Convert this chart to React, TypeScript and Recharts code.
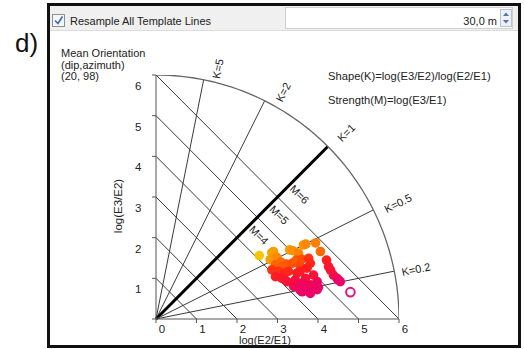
import React from 'react';
import { ScatterChart, Scatter, XAxis, YAxis, ReferenceLine, ReferenceDot } from 'recharts';

// ---------- data ----------
const axisTicks = [0, 1, 2, 3, 4, 5, 6];
const kValues = [5, 2, 1, 0.5, 0.2];
const kLabels = ['K=5', 'K=2', 'K=1', 'K=0.5', 'K=0.2'];
const mValues = [1, 2, 3, 4, 5, 6];
const mLabelValues = [4, 5, 6];
const templateRadius = 6;

// log(E2/E1)
const sampleX = [
  2.55, 2.86, 2.90, 2.82, 2.98, 3.30, 3.38, 3.52, 3.64, 3.70, 3.94, 4.06,
  2.95, 3.08, 3.11, 3.22, 3.36, 3.46, 3.56, 3.60, 3.77, 3.81, 4.21,
  2.86, 3.03, 3.18, 3.27, 3.48, 3.56, 3.73, 4.26, 4.31, 2.95, 3.11, 3.24, 3.44, 3.69, 3.89, 4.38, 4.47,
  3.40, 3.52, 3.61, 3.56, 3.65, 3.61, 3.77, 3.81, 3.81, 3.98, 3.98, 4.01, 4.55, 4.50,
];
// log(E3/E2)
const sampleY = [
  1.56, 1.63, 1.66, 1.46, 1.52, 1.70, 1.68, 1.62, 1.82, 1.84, 1.87, 1.66,
  1.33, 1.40, 1.29, 1.35, 1.37, 1.45, 1.30, 1.47, 1.49, 1.37, 1.45,
  1.21, 1.17, 1.12, 1.17, 1.13, 1.17, 1.25, 1.29, 1.20, 1.04, 1.00, 0.92, 0.96, 1.00, 1.08, 1.08, 1.00,
  0.80, 0.84, 0.88, 0.71, 0.76, 0.67, 0.68, 0.84, 0.63, 0.92, 0.72, 0.78, 0.92, 0.96,
];
// relative position along the template line (drives the colour)
const sampleOrder = [
  0.0, 0.2, 0.22, 0.25, 0.3, 0.25, 0.28, 0.32, 0.27, 0.3, 0.33, 0.4,
  0.42, 0.4, 0.45, 0.45, 0.47, 0.45, 0.5, 0.48, 0.55, 0.58, 0.6,
  0.55, 0.55, 0.6, 0.58, 0.62, 0.62, 0.62, 0.65, 0.7, 0.62, 0.65, 0.7, 0.72, 0.72, 0.7, 0.75, 0.8,
  0.8, 0.82, 0.82, 0.85, 0.88, 0.9, 0.9, 0.85, 0.92, 0.85, 0.92, 0.9, 0.92, 0.9,
];
const currentX = [4.80];
const currentY = [0.66];

// ---------- layout / style ----------
const W = 524;
const H = 349;
const FONT = '"Liberation Sans", Arial, sans-serif';
const TXT = '#222';
const LINE = '#3a3a3a';

const kLabelOffsets = [
  [13.6, 11.9],
  [16, 12.8],
  [22.8, 3.5],
  [25, 5.2],
  [21.7, 2.6],
];
const mLabelOffset = [22, -2.5];

const paletteStops: [number, number[]][] = [
  [0, [247, 198, 0]],
  [0.25, [251, 154, 0]],
  [0.45, [255, 90, 0]],
  [0.6, [255, 30, 30]],
  [0.8, [242, 8, 78]],
  [1, [229, 0, 125]],
];
function colorAt(t: number) {
  for (let i = 1; i < paletteStops.length; i++) {
    const [t1, c1] = paletteStops[i];
    const [t0, c0] = paletteStops[i - 1];
    if (t <= t1) {
      const f = (t - t0) / (t1 - t0);
      const c = c0.map((v, j) => Math.round(v + (c1[j] - v) * f));
      return `rgb(${c[0]},${c[1]},${c[2]})`;
    }
  }
  const c = paletteStops[paletteStops.length - 1][1];
  return `rgb(${c[0]},${c[1]},${c[2]})`;
}

const samples = sampleX.map((x, i) => ({ x, y: sampleY[i], color: colorAt(sampleOrder[i]) }));
const current = currentX.map((x, i) => ({ x, y: currentY[i] }));

const arcPoints: { x: number; y: number }[] = [];
for (let a = 0; a <= 90; a += 1.5) {
  const r = (a * Math.PI) / 180;
  arcPoints.push({ x: templateRadius * Math.cos(r), y: templateRadius * Math.sin(r) });
}

const XTick = (p: any) => (
  <text x={p.x + 6} y={p.y + 8} textAnchor="middle" fontFamily={FONT} fontSize={11.5} fill={TXT}>
    {p.payload.value}
  </text>
);
const YTick = (p: any) =>
  p.payload.value === 0 ? (
    <g />
  ) : (
    <text x={p.x - 8.5} y={p.y + 15} textAnchor="end" fontFamily={FONT} fontSize={11.5} fill={TXT}>
      {p.payload.value}
    </text>
  );

function Backdrop() {
  return (
    <svg width={W} height={H} style={{ position: 'absolute', left: 0, top: 0 }}>
      <rect x={0} y={0} width={W} height={H} fill="#fff" />
      <text x={15} y={52} fontFamily={FONT} fontSize={26} fill="#111">d)</text>
      <rect x={48.5} y={4.5} width={471} height={342} fill="#fff" stroke="#111" strokeWidth={3} />
      <rect x={50} y={6} width={468} height={24} fill="#f0f0f0" />
      <line x1={50} x2={518} y1={30.5} y2={30.5} stroke="#dcdcdc" />
      <rect x={52.5} y={14.5} width={12} height={12} fill="#f4f6fa" stroke="#8e8f8f" />
      <path d="M55 20.5 L58 23.5 L62.5 16.5" stroke="#3d6ab3" strokeWidth={1.6} fill="none" />
      <text x={70} y={24.5} fontFamily={FONT} fontSize={11} fill={TXT}>Resample All Template Lines</text>
      <rect x={285.5} y={7.5} width={227} height={21} fill="#fff" stroke="#d0d0d0" />
      <text x={497} y={24.5} textAnchor="end" fontFamily={FONT} fontSize={11} fill={TXT}>30,0 m</text>
      <rect x={500.5} y={9.5} width={11} height={17} fill="#eef2f7" stroke="#b8c3d1" />
      <path d="M503 16 L506 12.5 L509 16 Z" fill="#4f76b0" />
      <path d="M503 20 L506 23.5 L509 20 Z" fill="#4f76b0" />

      <text fontFamily={FONT} fontSize={11} fill={TXT}>
        <tspan x={61} y={57}>Mean Orientation</tspan>
        <tspan x={61} y={69}>(dip,azimuth)</tspan>
        <tspan x={61} y={80}>(20, 98)</tspan>
      </text>
      <text x={328} y={80} fontFamily={FONT} fontSize={11.2} fill={TXT}>Shape(K)=log(E3/E2)/log(E2/E1)</text>
      <text x={328} y={104} fontFamily={FONT} fontSize={11.2} fill={TXT}>Strength(M)=log(E3/E1)</text>

      <text x={265} y={343.5} textAnchor="middle" fontFamily={FONT} fontSize={11} fill={TXT}>log(E2/E1)</text>
      <text transform="translate(122,206) rotate(-90)" textAnchor="middle" fontFamily={FONT} fontSize={11.5} fill={TXT}>log(E3/E2)</text>
    </svg>
  );
}

export default function App() {
  return (
    <div style={{ position: 'absolute', left: 0, top: 0, width: W, height: H }}>
      <Backdrop />
      <div style={{ position: 'absolute', left: 0, top: 0 }}>
        <ScatterChart width={W} height={H} margin={{ top: 75, right: 125, bottom: 0, left: 0 }}>
          <XAxis
            type="number"
            dataKey="x"
            domain={[0, 6]}
            ticks={axisTicks}
            interval={0}
            allowDataOverflow
            height={30}
            axisLine={{ stroke: '#555' }}
            tickLine={{ stroke: '#555' }}
            tickSize={4}
            tick={<XTick />}
          />
          <YAxis
            type="number"
            dataKey="y"
            domain={[0, 6]}
            ticks={axisTicks}
            interval={0}
            allowDataOverflow
            width={156}
            axisLine={{ stroke: '#555' }}
            tickLine={{ stroke: '#555' }}
            tickSize={4}
            tick={<YTick />}
          />
          <Scatter
            data={arcPoints}
            isAnimationActive={false}
            line={{ stroke: '#666', strokeWidth: 1.3 }}
            shape={() => <g />}
          />
          <Scatter
            data={samples}
            isAnimationActive={false}
            shape={(p: any) => <circle cx={p.cx} cy={p.cy} r={4.8} fill={p.payload.color} />}
          />
          <Scatter
            data={current}
            isAnimationActive={false}
            shape={(p: any) => <circle cx={p.cx} cy={p.cy} r={4.3} fill="#fff" stroke="rgb(232,16,122)" strokeWidth={2} />}
          />
          {mValues.map((m) => (
            <ReferenceLine
              key={`m${m}`}
              segment={[{ x: 0, y: m }, { x: m, y: 0 }]}
              stroke={LINE}
              strokeWidth={1}
              ifOverflow="visible"
            />
          ))}
          {kValues.map((k) => {
            const a = Math.atan(k);
            return (
              <ReferenceLine
                key={`k${k}`}
                segment={[{ x: 0, y: 0 }, { x: templateRadius * Math.cos(a), y: templateRadius * Math.sin(a) }]}
                stroke={k === 1 ? '#000' : LINE}
                strokeWidth={k === 1 ? 3 : 1}
                ifOverflow="visible"
              />
            );
          })}
          {kValues.map((k, i) => {
            const a = Math.atan(k);
            const deg = (a * 180) / Math.PI;
            const [along, perp] = kLabelOffsets[i];
            return (
              <ReferenceDot
                key={`kl${k}`}
                x={templateRadius * Math.cos(a)}
                y={templateRadius * Math.sin(a)}
                ifOverflow="visible"
                shape={(p: any) => (
                  <text
                    transform={`translate(${p.cx},${p.cy}) rotate(${-deg})`}
                    x={along}
                    y={perp}
                    dy="0.35em"
                    textAnchor="middle"
                    fontFamily={FONT}
                    fontSize={11}
                    fill={TXT}
                  >
                    {kLabels[i]}
                  </text>
                )}
              />
            );
          })}
          {mLabelValues.map((m) => (
            <ReferenceDot
              key={`ml${m}`}
              x={m / 2}
              y={m / 2}
              ifOverflow="visible"
              shape={(p: any) => (
                <text
                  transform={`translate(${p.cx + mLabelOffset[0]},${p.cy + mLabelOffset[1]}) rotate(45)`}
                  dy="0.35em"
                  textAnchor="middle"
                  fontFamily={FONT}
                  fontSize={11}
                  fill={TXT}
                >
                  {`M=${m}`}
                </text>
              )}
            />
          ))}
        </ScatterChart>
      </div>
    </div>
  );
}
